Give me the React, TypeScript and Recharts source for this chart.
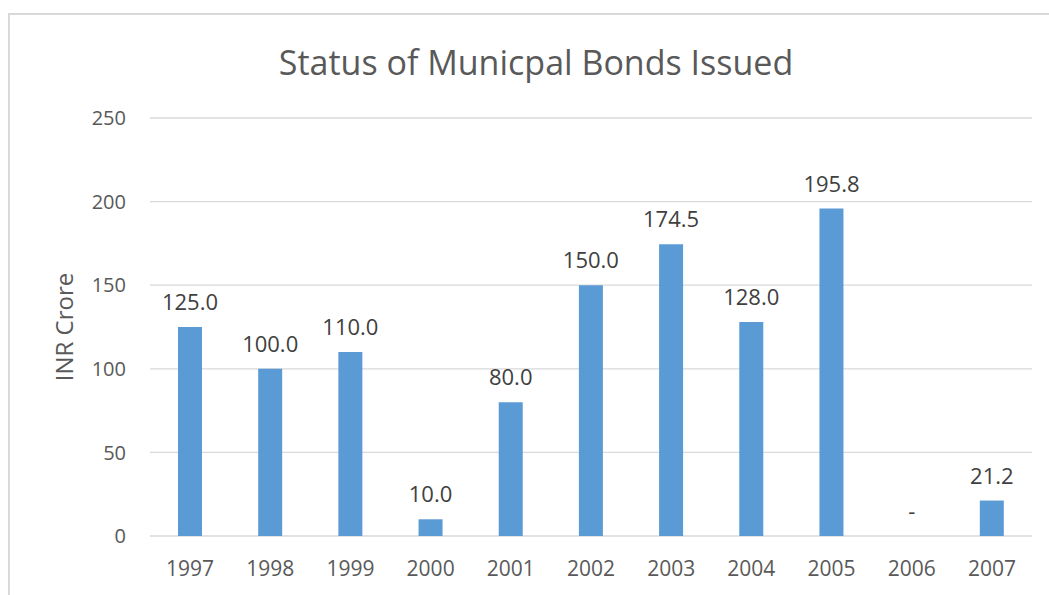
import { BarChart, Bar, XAxis, YAxis, CartesianGrid, LabelList, ReferenceDot } from 'recharts'

// 年度ごとの発行額 (INR Crore)
const years = ['1997', '1998', '1999', '2000', '2001', '2002', '2003', '2004', '2005', '2006', '2007']
const amounts = [125.0, 100.0, 110.0, 10.0, 80.0, 150.0, 174.5, 128.0, 195.8, 0, 21.2]
const yTicks = [0, 50, 100, 150, 200, 250]

const chartTitle = 'Status of Municpal Bonds Issued'
const yLabel = 'INR Crore'

const FONT = '"Open Sans", sans-serif'
const TEXT_COLOR = '#595959'
const LABEL_COLOR = '#404040'
const BAR_COLOR = '#5B9BD5'

const data = years.map((year, i) => ({ year, value: amounts[i] }))
// 0 の年は棒が描かれずラベルも出ないので、別途 "-" を置く
const zeroYears = data.filter((d) => d.value === 0)

const labelStyle = { fill: LABEL_COLOR, fontFamily: FONT, fontSize: 22 }

export default function App() {
  return (
    <div style={{ position: 'absolute', left: 0, top: 0, width: 1049, height: 595, overflow: 'hidden', background: '#fff' }}>
      <div
        style={{
          position: 'absolute',
          left: 8,
          top: 13,
          width: 1100,
          height: 700,
          border: '2px solid #d9d9d9',
        }}
      />
      <div
        style={{
          position: 'absolute',
          left: 0,
          width: 1072,
          top: 39,
          textAlign: 'center',
          fontFamily: FONT,
          fontSize: 34,
          lineHeight: '46px',
          color: TEXT_COLOR,
        }}
      >
        {chartTitle}
      </div>
      <BarChart
        width={1049}
        height={595}
        data={data}
        margin={{ top: 118, right: 17, left: 90, bottom: 29 }}
        style={{ position: 'absolute', left: 0, top: 0 }}
      >
        <CartesianGrid horizontal vertical={false} stroke="#d9d9d9" strokeWidth={1.3} />
        <XAxis
          dataKey="year"
          axisLine={false}
          tickLine={false}
          height={30}
          tickMargin={19}
          tick={{ fill: TEXT_COLOR, fontFamily: FONT, fontSize: 21 }}
        />
        <YAxis
          width={60}
          domain={[0, 250]}
          ticks={yTicks}
          axisLine={false}
          tickLine={false}
          tickMargin={18}
          tick={{ fill: TEXT_COLOR, fontFamily: FONT, fontSize: 20 }}
          label={{
            value: yLabel,
            angle: -90,
            position: 'insideLeft',
            offset: -26,
            style: { fill: TEXT_COLOR, fontFamily: FONT, fontSize: 24, textAnchor: 'middle' },
          }}
        />
        <Bar dataKey="value" fill={BAR_COLOR} barSize={24} isAnimationActive={false}>
          <LabelList
            dataKey="value"
            position="top"
            offset={17}
            formatter={(v: unknown) => Number(v).toFixed(1)}
            style={labelStyle}
          />
        </Bar>
        {zeroYears.map((d) => (
          <ReferenceDot
            key={d.year}
            x={d.year}
            y={d.value}
            r={0}
            fill="none"
            stroke="none"
            label={{ value: '-', position: 'top', offset: 17, style: labelStyle }}
          />
        ))}
      </BarChart>
    </div>
  )
}
